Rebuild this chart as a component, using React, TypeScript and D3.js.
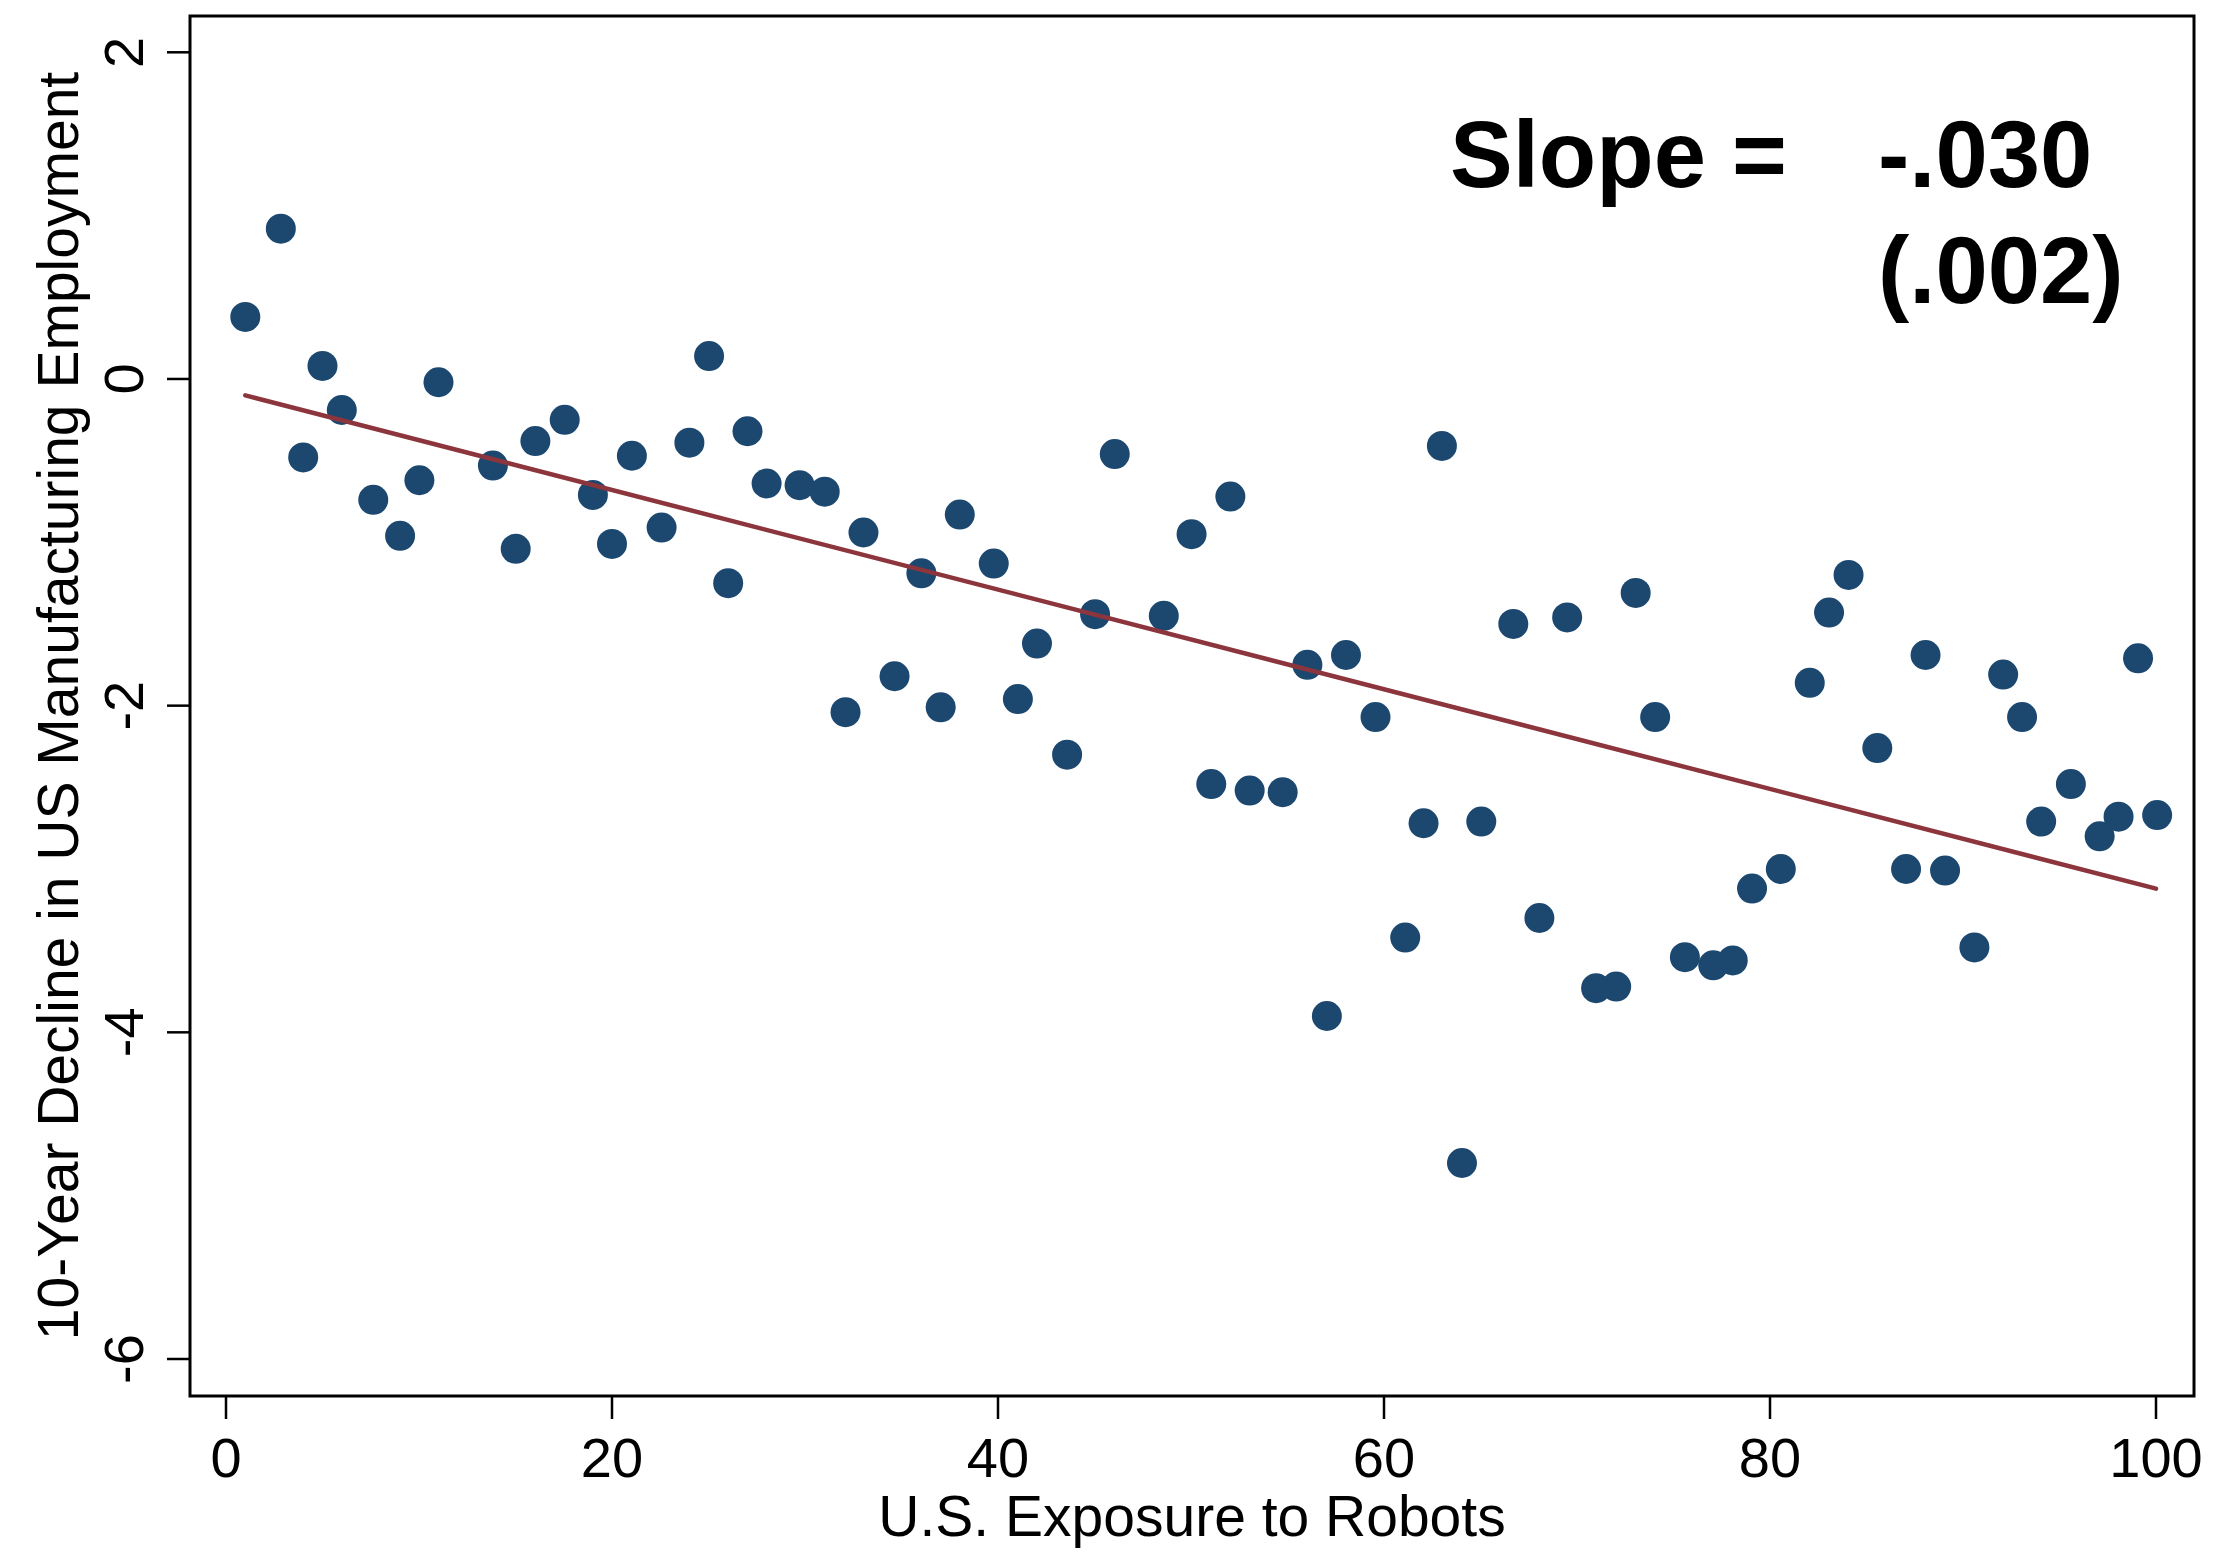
import { useEffect, useRef } from "react";
import * as d3 from "d3";

// binned scatter: exposure to robots (x) vs 10-yr decline in mfg employment (y)
const exposure = [
  1.0, 2.84, 4.0, 5.0, 6.0, 7.63, 9.02, 10.02, 11.01, 13.83,
  15.01, 16.03, 17.55, 19.01, 20.0, 21.03, 22.57, 24.01, 25.03, 26.02,
  27.02, 28.01, 29.72, 31.02, 32.1, 33.03, 34.64, 36.03, 37.03, 38.02,
  39.78, 41.03, 42.02, 43.58, 45.03, 46.05, 48.59, 50.03, 51.05, 52.04,
  53.04, 54.75, 56.03, 57.04, 58.03, 59.56, 61.1, 62.05, 63.0, 64.04,
  65.04, 66.7, 68.05, 69.49, 70.99, 72.03, 73.04, 74.05, 75.59, 77.06,
  78.07, 79.07, 80.56, 82.06, 83.06, 84.07, 85.56, 87.05, 88.06, 89.07,
  90.59, 92.08, 93.06, 94.05, 95.59, 97.08, 98.06, 99.07, 100.06,
];
const decline = [
  0.38, 0.92, -0.48, 0.08, -0.19, -0.74, -0.96, -0.62, -0.02, -0.53,
  -1.04, -0.38, -0.25, -0.71, -1.01, -0.47, -0.91, -0.39, 0.14, -1.25,
  -0.32, -0.64, -0.65, -0.69, -2.04, -0.94, -1.82, -1.19, -2.01, -0.83,
  -1.13, -1.96, -1.62, -2.3, -1.44, -0.46, -1.45, -0.95, -2.48, -0.72,
  -2.52, -2.53, -1.75, -3.9, -1.69, -2.07, -3.42, -2.72, -0.41, -4.8,
  -2.71, -1.5, -3.3, -1.46, -3.73, -3.72, -1.31, -2.07, -3.54, -3.59,
  -3.56, -3.12, -3.0, -1.86, -1.43, -1.2, -2.26, -3.0, -1.69, -3.01,
  -3.48, -1.81, -2.07, -2.71, -2.48, -2.8, -2.68, -1.71, -2.67,
];

// fitted line endpoints
const fitX = [1, 100];
const fitY = [-0.1, -3.12];

const xTicks = [0, 20, 40, 60, 80, 100];
const yTicks = [2, 0, -2, -4, -6];

const xTitle = "U.S. Exposure to Robots";
const yTitle = "10-Year Decline in US Manufacturing Employment";
const slopeText = "Slope =";
const slopeValue = "-.030";
const slopeSE = "(.002)";

const W = 2214;
const H = 1553;
const font = "'Liberation Sans', Arial, Helvetica, sans-serif";

const App = () => {
  const svgRef = useRef<SVGSVGElement>(null);

  useEffect(() => {
    const svg = d3.select(svgRef.current);
    svg.selectAll("*").remove();

    const x = d3.scaleLinear().domain([0, 100]).range([226, 2156]);
    const y = d3.scaleLinear().domain([2, -6]).range([52.3, 1359]);

    const frame = { left: 190, right: 2194, top: 16, bottom: 1396 };

    svg.append("rect")
      .attr("width", W)
      .attr("height", H)
      .attr("fill", "#fff");

    // y axis ticks + labels (rotated, stata style)
    const yt = svg.append("g");
    yt.selectAll("line")
      .data(yTicks)
      .enter()
      .append("line")
      .attr("x1", frame.left - 23)
      .attr("x2", frame.left)
      .attr("y1", d => y(d))
      .attr("y2", d => y(d))
      .attr("stroke", "#000")
      .attr("stroke-width", 2.5);
    yt.selectAll("text")
      .data(yTicks)
      .enter()
      .append("text")
      .attr("transform", d => `translate(143, ${y(d)}) rotate(-90)`)
      .attr("text-anchor", "middle")
      .attr("font-family", font)
      .attr("font-size", 56)
      .text(d => d);

    // x axis ticks + labels
    const xt = svg.append("g");
    xt.selectAll("line")
      .data(xTicks)
      .enter()
      .append("line")
      .attr("x1", d => x(d))
      .attr("x2", d => x(d))
      .attr("y1", frame.bottom)
      .attr("y2", frame.bottom + 23)
      .attr("stroke", "#000")
      .attr("stroke-width", 2.5);
    xt.selectAll("text")
      .data(xTicks)
      .enter()
      .append("text")
      .attr("x", d => x(d))
      .attr("y", 1477)
      .attr("text-anchor", "middle")
      .attr("font-family", font)
      .attr("font-size", 56)
      .text(d => d);

    // axis titles
    svg.append("text")
      .attr("x", (frame.left + frame.right) / 2)
      .attr("y", 1536)
      .attr("text-anchor", "middle")
      .attr("font-family", font)
      .attr("font-size", 57)
      .text(xTitle);

    svg.append("text")
      .attr("transform", `translate(78, ${(frame.top + frame.bottom) / 2}) rotate(-90)`)
      .attr("text-anchor", "middle")
      .attr("font-family", font)
      .attr("font-size", 57)
      .text(yTitle);

    // points
    const pts = d3.zip(exposure, decline);
    svg.append("g")
      .selectAll("circle")
      .data(pts)
      .enter()
      .append("circle")
      .attr("cx", d => x(d[0]))
      .attr("cy", d => y(d[1]))
      .attr("r", 15)
      .attr("fill", "#1c4870");

    // fit line on top
    const line = d3.line<[number, number]>()
      .x(d => x(d[0]))
      .y(d => y(d[1]));
    svg.append("path")
      .datum(d3.zip(fitX, fitY) as [number, number][])
      .attr("d", line)
      .attr("fill", "none")
      .attr("stroke", "#8c353c")
      .attr("stroke-width", 4.5)
      .attr("stroke-linecap", "round");

    // plot frame
    svg.append("rect")
      .attr("x", frame.left)
      .attr("y", frame.top)
      .attr("width", frame.right - frame.left)
      .attr("height", frame.bottom - frame.top)
      .attr("fill", "none")
      .attr("stroke", "#000")
      .attr("stroke-width", 3);

    // slope annotation
    const ann = svg.append("g")
      .attr("font-family", font)
      .attr("font-weight", "bold")
      .attr("font-size", 94);
    ann.append("text").attr("x", 1450).attr("y", 187).text(slopeText);
    ann.append("text").attr("x", 1878).attr("y", 187).text(slopeValue);
    ann.append("text").attr("x", 1878).attr("y", 303).text(slopeSE);
  }, []);

  return (
    <svg
      ref={svgRef}
      width={W}
      height={H}
      style={{ position: "absolute", left: 0, top: 0, display: "block" }}
    />
  );
};

export default App;
